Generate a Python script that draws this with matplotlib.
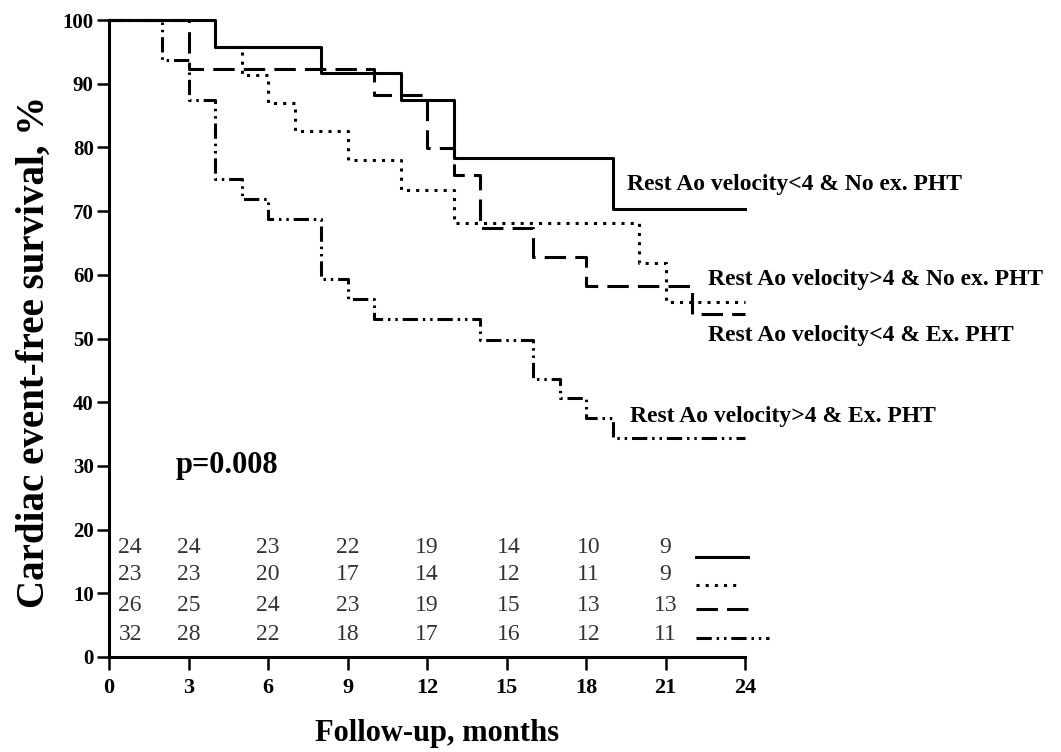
import matplotlib
matplotlib.use('Agg')
import matplotlib.pyplot as plt

plt.rcParams['font.family'] = ['Liberation Serif', 'DejaVu Serif']

# Kaplan-Meier curves (months, % event-free)
t_lt4_noph = [0, 4, 8, 11, 13, 19, 24]
s_lt4_noph = [100, 95.8, 91.7, 87.5, 78.3, 70.4, 70.4]

t_lt4_ph = [0, 4, 5, 6, 7, 9, 11, 13, 20, 21, 24]
s_lt4_ph = [100, 95.7, 91.3, 87.0, 82.6, 78.0, 73.3, 68.2, 61.9, 55.7, 55.7]

t_gt4_noph = [0, 3, 10, 12, 13, 14, 16, 18, 22, 24]
s_gt4_noph = [100, 92.3, 88.2, 79.9, 75.6, 67.3, 62.8, 58.2, 53.8, 53.8]

t_gt4_ph = [0, 2, 3, 4, 5, 6, 8, 9, 10, 14, 16, 17, 18, 19, 24]
s_gt4_ph = [100, 93.75, 87.5, 75.0, 71.9, 68.75, 59.3, 56.2, 53.0, 49.8, 43.7, 40.6, 37.5, 34.4, 34.4]

labels = ['Rest Ao velocity<4 & No ex. PHT',
          'Rest Ao velocity>4 & No ex. PHT',
          'Rest Ao velocity<4 & Ex. PHT',
          'Rest Ao velocity>4 & Ex. PHT']

# numbers at risk
risk_lt4_noph = [24, 24, 23, 22, 19, 14, 10, 9]
risk_lt4_ph = [23, 23, 20, 17, 14, 12, 11, 9]
risk_gt4_noph = [26, 25, 24, 23, 19, 15, 13, 13]
risk_gt4_ph = [32, 28, 22, 18, 17, 16, 12, 11]

xticks = [0, 3, 6, 9, 12, 15, 18, 21, 24]
yticks = [0, 10, 20, 30, 40, 50, 60, 70, 80, 90, 100]

lw = 2.2
ls_solid = '-'
ls_dot = (0, (1, 2))
ls_dash = (0, (7, 3))
ls_dashdot = (0, (5, 1.6, 0.8, 1.6, 0.8, 1.6))

fig = plt.figure(figsize=(10.61, 7.52), dpi=100)
ax = fig.add_axes([109/1061, 95/752, 636/1061, 637/752])

ax.step(t_lt4_noph, s_lt4_noph, where='post', color='black', lw=lw, ls=ls_solid, clip_on=False)
ax.step(t_lt4_ph, s_lt4_ph, where='post', color='black', lw=lw, ls=ls_dot, clip_on=False)
ax.step(t_gt4_noph, s_gt4_noph, where='post', color='black', lw=lw, ls=ls_dash, clip_on=False)
ax.step(t_gt4_ph, s_gt4_ph, where='post', color='black', lw=lw, ls=ls_dashdot, clip_on=False)

# curve labels
ax.text(19.55, 74.1, labels[0], fontsize=17, fontweight='bold', va='center', ha='left')
ax.text(22.6, 59.2, labels[1], fontsize=17, fontweight='bold', va='center', ha='left', clip_on=False)
ax.text(22.6, 50.5, labels[2], fontsize=17, fontweight='bold', va='center', ha='left', clip_on=False)
ax.text(19.66, 37.7, labels[3], fontsize=17, fontweight='bold', va='center', ha='left')

ax.text(2.53, 30.1, 'p=0.008', fontsize=22, fontweight='bold', va='center', ha='left')

# number at risk table
col_x = [0.8, 3, 6, 9, 12, 15.1, 18.1, 21]
row_y = [17.2, 12.9, 8.1, 3.6]
rows = [risk_lt4_noph, risk_lt4_ph, risk_gt4_noph, risk_gt4_ph]
for r, yy in zip(rows, row_y):
    for n, xx in zip(r, col_x):
        ax.text(xx, yy, str(n), fontsize=17, color='#333333', ha='center', va='center')

# line keys next to table
key_styles = [ls_solid, ls_dot, ls_dash, ls_dashdot]
key_end = [24.1, 23.7, 24.4, 24.9]
key_y = [15.7, 11.3, 7.5, 3.0]
for st, xe, yy in zip(key_styles, key_end, key_y):
    ax.plot([22.15, xe], [yy, yy], color='black', lw=lw, ls=st, clip_on=False)

ax.set_xlim(0, 24)
ax.set_ylim(0, 100)
ax.set_xticks(xticks)
ax.set_yticks(yticks)
for lab in ax.get_xticklabels() + ax.get_yticklabels():
    lab.set_fontweight('bold')
ax.tick_params(axis='x', labelsize=16, length=9, width=1.8, pad=6)
ax.tick_params(axis='y', labelsize=15, length=9, width=1.8, pad=2)
for s in ['top', 'right']:
    ax.spines[s].set_visible(False)
for s in ['left', 'bottom']:
    ax.spines[s].set_linewidth(2.2)

fig.text(437/1061, 1 - 733/752, 'Follow-up, months', fontsize=22, fontweight='bold', ha='center', va='center')
fig.text(34/1061, 1 - 352/752, 'Cardiac event-free survival, %', fontsize=28, fontweight='bold',
         ha='center', va='center', rotation=90)

fig.savefig('out.png', dpi=100)
